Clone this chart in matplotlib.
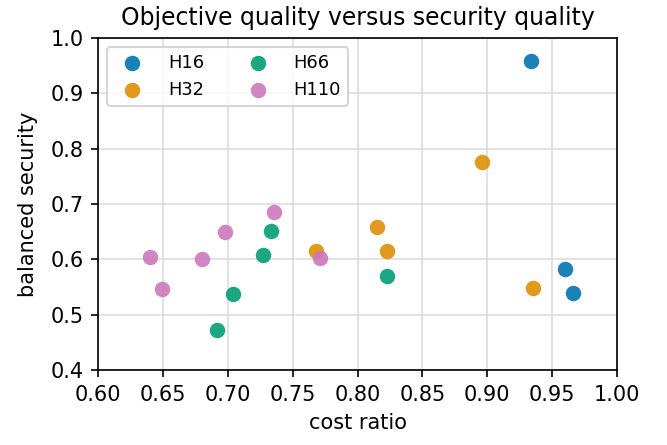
import matplotlib
matplotlib.use("Agg")
import matplotlib.pyplot as plt

# Datos
labels = ["H16", "H32", "H66", "H110"]
cost_h16 = [0.934, 0.960, 0.966]
sec_h16 = [0.958, 0.583, 0.540]
cost_h32 = [0.896, 0.815, 0.823, 0.768, 0.935]
sec_h32 = [0.775, 0.658, 0.616, 0.616, 0.549]
cost_h66 = [0.733, 0.727, 0.823, 0.704, 0.692]
sec_h66 = [0.651, 0.608, 0.571, 0.538, 0.472]
cost_h110 = [0.736, 0.698, 0.640, 0.680, 0.649, 0.771]
sec_h110 = [0.685, 0.650, 0.605, 0.600, 0.546, 0.602]

xs = [cost_h16, cost_h32, cost_h66, cost_h110]
ys = [sec_h16, sec_h32, sec_h66, sec_h110]
colors = ["#0173b2", "#de8f05", "#029e73", "#cc78bc"]

fig, ax = plt.subplots(figsize=(667 / 150, 445 / 150), dpi=150)
fig.subplots_adjust(left=0.147, right=0.925, top=0.915, bottom=0.168)

for x, y, c, lab in zip(xs, ys, colors, labels):
    ax.scatter(x, y, s=55, color=c, alpha=0.9, linewidths=0, label=lab, zorder=3)

ax.set_xlim(0.6, 1.0)
ax.set_ylim(0.4, 1.0)
ax.set_xticks([0.6, 0.65, 0.7, 0.75, 0.8, 0.85, 0.9, 0.95, 1.0])
ax.set_xticklabels(["0.60", "0.65", "0.70", "0.75", "0.80", "0.85", "0.90", "0.95", "1.00"])
ax.set_yticks([0.4, 0.5, 0.6, 0.7, 0.8, 0.9, 1.0])
ax.grid(True, color="#d4d4d4", linewidth=0.8, alpha=0.8)
ax.set_axisbelow(True)
ax.set_xlabel("cost ratio")
ax.set_ylabel("balanced security", labelpad=6)
ax.set_title("Objective quality versus security quality", fontsize=11.3)
ax.legend(ncol=2, loc="upper left", fontsize=8.6, handletextpad=1.0, columnspacing=2.0)

fig.savefig("out.png", dpi=150)
